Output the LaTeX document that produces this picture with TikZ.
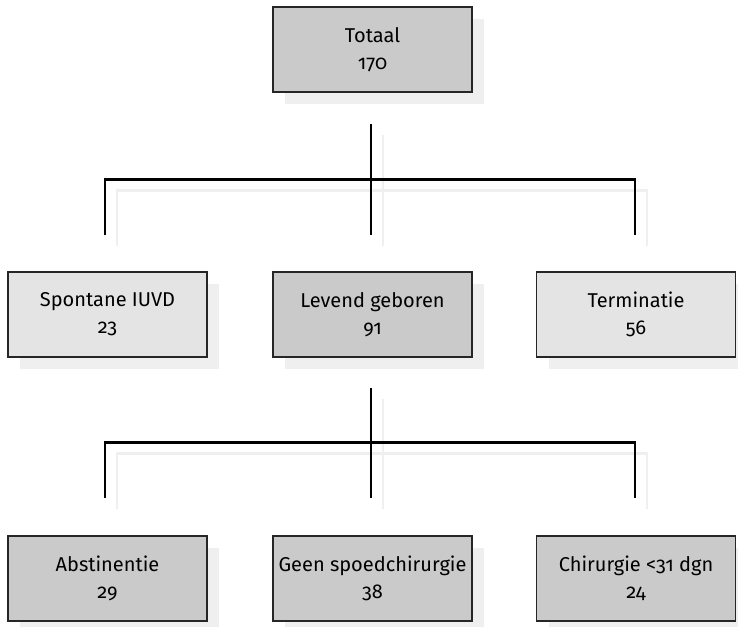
\documentclass[tikz,border=0pt]{standalone}
\usepackage{fontspec}
\setmainfont{Fira Sans}[Numbers=OldStyle]
\usetikzlibrary{calc}
\definecolor{darkfill}{HTML}{CACACA}
\definecolor{lightfill}{HTML}{E4E4E4}
\definecolor{shadowgray}{HTML}{EFEFEF}
\definecolor{edgegray}{HTML}{262626}
\tikzset{
  box/.style={draw=edgegray, line width=1.3pt, minimum width=199pt, minimum height=85pt,
    inner sep=0pt, align=center, font=\fontsize{20}{27}\selectfont,
    preaction={fill=shadowgray, draw=none, transform canvas={shift={(12pt,-12pt)}}}},
  darkbox/.style={box, fill=darkfill},
  lightbox/.style={box, fill=lightfill},
  conn/.style={line width=2.5pt, black, line join=miter, line cap=butt},
  connshadow/.style={line width=2.5pt, shadowgray, line join=miter, line cap=butt,
    transform canvas={shift={(12pt,-11pt)}}}
}
\begin{document}
\begin{tikzpicture}[x=1pt,y=1pt]
\useasboundingbox (0,0) rectangle (738,-626);
% nodes
\node[darkbox]  (top)   at (372.5,-49.5)  {Totaal\\170};
\node[lightbox] (spont) at (107.5,-314.5) {Spontane IUVD\\23};
\node[darkbox]  (lev)   at (372.5,-314.5) {Levend geboren\\91};
\node[lightbox] (term)  at (636,-314.5)   {Terminatie\\56};
\node[darkbox]  (abst)  at (107.5,-578.5) {Abstinentie\\29};
\node[darkbox]  (geen)  at (372.5,-578.5) {Geen spoedchirurgie\\38};
\node[darkbox]  (chir)  at (636,-578.5)   {Chirurgie <31 dgn\\24};
% connector points, level 1
\coordinate (a1) at ($(top.south)+(-1.5,-31)$);
\coordinate (al) at ($(spont.north)+(-2.5,92)$);
\coordinate (ale) at ($(spont.north)+(-2.5,36)$);
\coordinate (ar) at ($(term.north)+(-1,92)$);
\coordinate (are) at ($(term.north)+(-1,36)$);
\coordinate (am) at ($(lev.north)+(-1.5,36)$);
% connector points, level 2
\coordinate (b1) at ($(lev.south)+(-1.5,-30)$);
\coordinate (bl) at ($(abst.north)+(-2.5,93)$);
\coordinate (ble) at ($(abst.north)+(-2.5,37)$);
\coordinate (br) at ($(chir.north)+(-1,93)$);
\coordinate (bre) at ($(chir.north)+(-1,37)$);
\coordinate (bm) at ($(geen.north)+(-1.5,37)$);
% shadows of connectors
\draw[connshadow] (a1) -- (am);
\draw[connshadow] (ale) -- (al) -- (ar) -- (are);
\draw[connshadow] (b1) -- (bm);
\draw[connshadow] (ble) -- (bl) -- (br) -- (bre);
% connectors
\draw[conn] (a1) -- (am);
\draw[conn] (ale) -- (al) -- (ar) -- (are);
\draw[conn] (b1) -- (bm);
\draw[conn] (ble) -- (bl) -- (br) -- (bre);
\end{tikzpicture}
\end{document}
